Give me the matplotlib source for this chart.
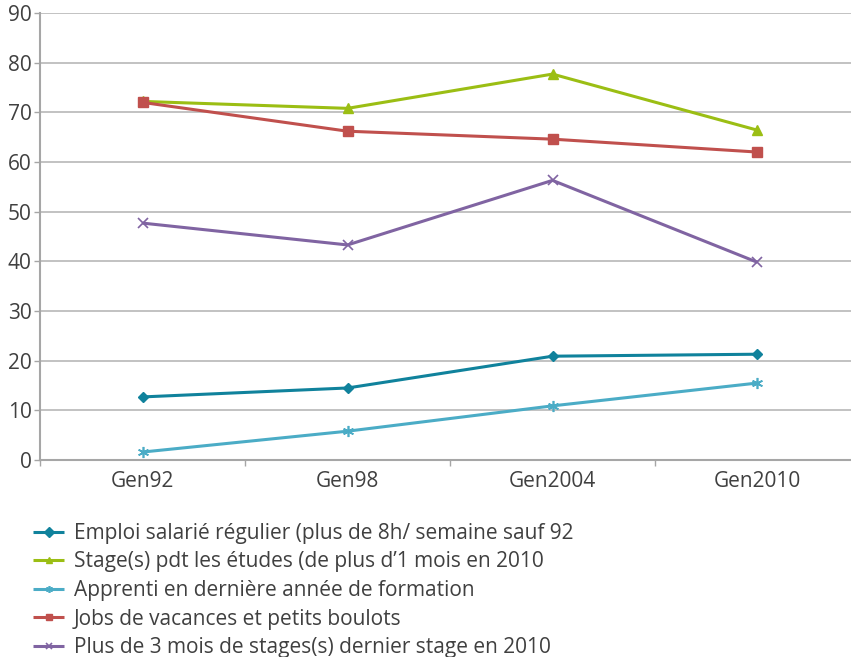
import matplotlib
matplotlib.use("Agg")
import matplotlib.pyplot as plt

categories = ["Gen92", "Gen98", "Gen2004", "Gen2010"]
emploi = [12.7, 14.5, 20.9, 21.3]
stage = [72.2, 70.8, 77.7, 66.4]
apprenti = [1.6, 5.8, 10.9, 15.5]
jobs = [72.0, 66.2, 64.6, 62.0]
plus3 = [47.7, 43.3, 56.3, 39.8]
yticks = [0, 10, 20, 30, 40, 50, 60, 70, 80, 90]

labels = [
    "Emploi salarié régulier (plus de 8h/ semaine sauf 92",
    "Stage(s) pdt les études (de plus d\u20191 mois en 2010",
    "Apprenti en dernière année de formation",
    "Jobs de vacances et petits boulots",
    "Plus de 3 mois de stages(s) dernier stage en 2010",
]

plt.rcParams['font.family'] = ['Open Sans', 'DejaVu Sans']
txt = '#404040'

fig = plt.figure(figsize=(8.51, 6.57), dpi=100)
W, H = 851, 657
ax = fig.add_axes([40 / W, (H - 460) / H, 820 / W, 447 / H])

x = list(range(len(categories)))
series = [
    (emploi, '#10829C', 'D', 5.5, 1),
    (stage, '#9BBE14', '^', 7, 1),
    (apprenti, '#4BACC6', (6, 2, 0), 8, 1.2),
    (jobs, '#C0504D', 's', 6.5, 1),
    (plus3, '#8064A2', 'x', 6.5, 1.2),
]
handles = []
for (vals, col, mk, ms, mew), lab in zip(series, labels):
    h, = ax.plot(x, vals, color=col, lw=2.2, marker=mk, ms=ms,
                 mec=col, mfc=col, mew=mew, label=lab, zorder=3,
                 solid_capstyle='butt')
    handles.append(h)

ax.set_xlim(-0.5, 3.5)
ax.set_ylim(0, 90)
ax.set_yticks(yticks)
ax.set_xticks(x)
ax.set_xticklabels(categories)
ax.set_xticks([-0.5, 0.5, 1.5, 2.5, 3.5], minor=True)
ax.tick_params(axis='x', which='major', length=0, pad=8, labelsize=15, labelcolor=txt)
ax.tick_params(axis='x', which='minor', length=4, width=1, color='#A6A6A6', direction='out')
ax.tick_params(axis='y', length=4, width=1, color='#A6A6A6', pad=2, labelsize=15, labelcolor=txt)
ax.grid(axis='y', color='#B8B8B8', lw=1.2)
ax.set_axisbelow(True)
for s in ['top', 'right']:
    ax.spines[s].set_visible(False)
for s in ['left', 'bottom']:
    ax.spines[s].set_color('#A6A6A6')
    ax.spines[s].set_linewidth(1.5)

leg = fig.legend(handles=handles, labels=labels, loc='upper left',
                 bbox_to_anchor=(33 / W, (H - 523) / H), frameon=False,
                 fontsize=15, handlelength=1.5, handletextpad=0.45,
                 labelspacing=0.36, borderaxespad=0, borderpad=0)
for t in leg.get_texts():
    t.set_color(txt)
for lh in leg.legend_handles:
    lh.set_markersize(5)

fig.savefig("out.png", dpi=100)
